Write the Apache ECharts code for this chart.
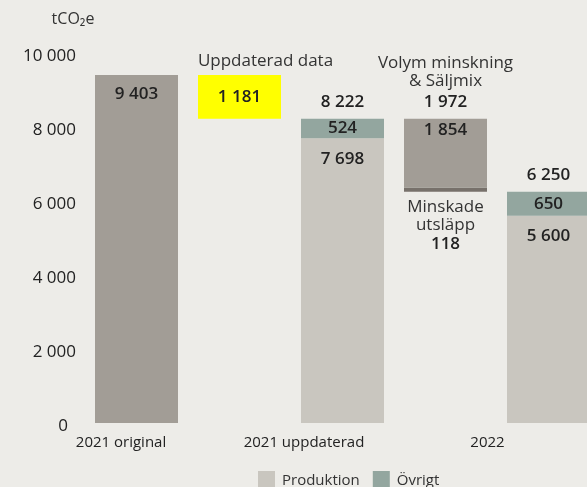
<!DOCTYPE html>
<html>
<head>
<meta charset="utf-8">
<script src="https://cdn.jsdelivr.net/npm/echarts@6/dist/echarts.min.js"></script>
<style>
  html, body { margin: 0; padding: 0; background: #edece8; }
  #chart { width: 587px; height: 487px; }
</style>
</head>
<body>
<div id="chart"></div>
<script>
// categories and values
var categories = ['2021 original', 'Uppdaterad data', '2021 uppdaterad', 'Volym minskning & Säljmix', '2022'];
var axisLabels = ['2021 original', '', '2021 uppdaterad', '', '2022'];
var baseValues = [0, 8222, 0, 6250, 0];
var minskade = ['-', '-', '-', 118, '-'];
var produktion = ['-', '-', 7698, '-', 5600];
var ovrigt = ['-', '-', 524, '-', 650];
var greyValues = [9403, '-', '-', 1854, '-'];
var uppdaterad = ['-', 1181, '-', '-', '-'];
var totals = [null, null, 8222, 1972, 6250];
var notes = ['', 'Uppdaterad data', '', 'Volym minskning\n& Säljmix', ''];

var font = 'Open Sans';

function fmt(v) {
    return String(v).replace(/\B(?=(\d{3})+(?!\d))/g, ' ');
}

var chartDom = document.getElementById('chart');
var myChart = echarts.init(chartDom);

var numLabel = {
    show: true,
    fontFamily: font,
    fontSize: 17,
    fontWeight: 600,
    color: '#222',
    formatter: function (p) { return fmt(p.value); }
};

// the waterfall step gets its number closer to the top edge
var greyData = greyValues.map(function (v, i) {
    return i === 3 ? { value: v, label: { distance: 3 } } : v;
});

var option = {
    backgroundColor: '#edece8',
    animation: false,
    textStyle: { fontFamily: font },
    grid: { left: 85, top: 53, width: 515, bottom: 64, outerBoundsMode: 'none', containLabel: false },
    legend: {
        data: ['Produktion', 'Övrigt'],
        left: 253,
        top: 466,
        itemWidth: 17,
        itemHeight: 19,
        itemGap: 13,
        icon: 'rect',
        textStyle: { fontFamily: font, fontSize: 15, color: '#333', padding: [0, 0, 0, 2] }
    },
    xAxis: {
        type: 'category',
        data: axisLabels,
        axisLine: { show: false },
        axisTick: { show: false },
        axisLabel: {
            interval: 0,
            margin: 12,
            fontFamily: font,
            fontSize: 15,
            color: '#222',
            formatter: function (v, i) { return v ? '{l' + i + '|' + v + '}' : ''; },
            rich: {
                l0: { fontFamily: font, fontSize: 15, color: '#222', padding: [0, 31, 0, 0] },
                l2: { fontFamily: font, fontSize: 15, color: '#222', padding: [0, 77, 0, 0] },
                l4: { fontFamily: font, fontSize: 15, color: '#222', padding: [0, 122, 0, 0] }
            }
        }
    },
    yAxis: {
        type: 'value',
        min: 0,
        max: 10000,
        interval: 2000,
        name: 'tCO₂e',
        nameGap: 26,
        nameTextStyle: { fontFamily: font, fontSize: 16, color: '#333', padding: [0, 24, 0, 0] },
        axisLine: { show: false },
        axisTick: { show: false },
        splitLine: { show: false },
        axisLabel: {
            margin: 9,
            fontFamily: font,
            fontSize: 17,
            color: '#222',
            padding: [6, 0, 0, 0],
            formatter: function (v) { return v === 0 ? '{z|0}' : fmt(v); },
            rich: { z: { fontFamily: font, fontSize: 17, color: '#222', padding: [0, 8, 0, 0] } }
        }
    },
    series: [
        {
            name: 'base',
            type: 'bar',
            stack: 'total',
            barWidth: 83,
            itemStyle: { color: 'transparent' },
            data: baseValues
        },
        {
            name: 'Minskade utsläpp',
            type: 'bar',
            stack: 'total',
            itemStyle: { color: '#77716b' },
            label: {
                show: true,
                position: 'bottom',
                distance: 6,
                formatter: function (p) { return '{h|Minskade}\n{h|utsläpp}\n{b|' + fmt(p.value) + '}'; },
                rich: {
                    h: { fontFamily: font, fontSize: 17, color: '#333', lineHeight: 18 },
                    b: { fontFamily: font, fontSize: 17, fontWeight: 600, color: '#222', lineHeight: 21 }
                }
            },
            data: minskade
        },
        {
            name: 'Produktion',
            type: 'bar',
            stack: 'total',
            itemStyle: { color: '#c9c6bf' },
            label: Object.assign({}, numLabel, { position: 'insideTop', distance: 12 }),
            data: produktion
        },
        {
            name: 'Övrigt',
            type: 'bar',
            stack: 'total',
            itemStyle: { color: '#93a69f' },
            label: Object.assign({}, numLabel, { position: 'inside' }),
            data: ovrigt
        },
        {
            name: 'grey',
            type: 'bar',
            stack: 'total',
            itemStyle: { color: '#a29d96' },
            label: Object.assign({}, numLabel, { position: 'insideTop', distance: 11 }),
            data: greyData
        },
        {
            name: 'Uppdaterad data',
            type: 'bar',
            stack: 'total',
            itemStyle: { color: '#ffff00' },
            label: Object.assign({}, numLabel, { position: 'inside', padding: [0, 0, 8, 0] }),
            data: uppdaterad
        },
        {
            name: 'labels',
            type: 'bar',
            stack: 'total',
            itemStyle: { color: 'transparent' },
            label: {
                show: true,
                position: 'top',
                distance: 5,
                formatter: function (p) {
                    var i = p.dataIndex;
                    var parts = [];
                    if (notes[i]) {
                        notes[i].split('\n').forEach(function (t) { parts.push('{h' + i + '|' + t + '}'); });
                    }
                    if (totals[i] != null) parts.push('{b|' + fmt(totals[i]) + '}');
                    return parts.join('\n');
                },
                rich: {
                    h1: { fontFamily: font, fontSize: 17, color: '#333', lineHeight: 18, padding: [0, 0, 0, 52] },
                    h3: { fontFamily: font, fontSize: 17, color: '#333', lineHeight: 18 },
                    b: { fontFamily: font, fontSize: 17, fontWeight: 600, color: '#222', lineHeight: 24 }
                }
            },
            data: categories.map(function (c, i) { return i === 0 ? '-' : 0; })
        }
    ]
};

option && myChart.setOption(option);
</script>
</body>
</html>
